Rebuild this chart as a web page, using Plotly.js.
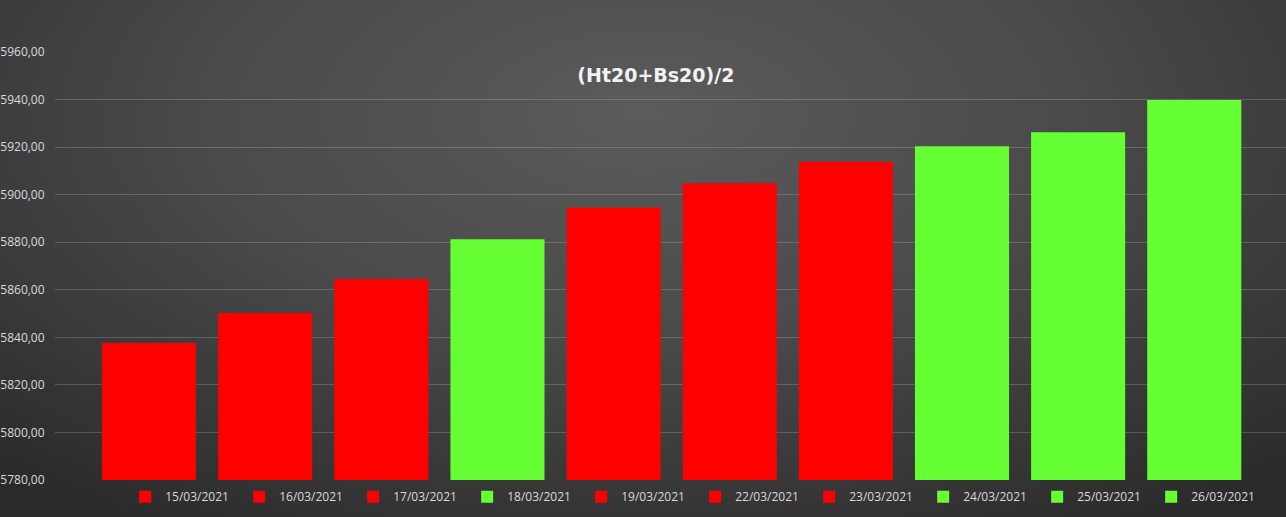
<!DOCTYPE html>
<html>
<head>
<meta charset="utf-8">
<script src="https://cdn.plot.ly/plotly-3.0.1.min.js"></script>
<style>
  html, body { margin:0; padding:0; }
  body { width:1286px; height:517px; overflow:hidden;
    background: radial-gradient(ellipse 75% 95% at 50% 22%, #5b5b5b 0%, #4a4a4a 45%, #2a2a2a 100%); }
  #chart { width:1286px; height:517px; }
</style>
</head>
<body>
<div id="chart"></div>
<script>
const dates = ["15/03/2021","16/03/2021","17/03/2021","18/03/2021","19/03/2021","22/03/2021","23/03/2021","24/03/2021","25/03/2021","26/03/2021"];
const values = [5837.6, 5850.2, 5864.5, 5881.3, 5894.5, 5904.8, 5913.8, 5920.4, 5926.3, 5939.8];
const direction = ["down","down","down","up","down","down","down","up","up","up"];

const colorFor = { up: "#66ff33", down: "#ff0000" };

const traces = dates.map((d, i) => ({
  type: "bar",
  x: [d],
  y: [values[i]],
  name: d,
  width: 0.81,
  marker: { color: colorFor[direction[i]] },
  hoverinfo: "x+y"
}));

const layout = {
  width: 1286, height: 517,
  paper_bgcolor: "rgba(0,0,0,0)",
  plot_bgcolor: "rgba(0,0,0,0)",
  margin: { l: 55, r: 0, t: 52, b: 37 },
  barmode: "overlay",
  separators: ",.",
  showlegend: true,
  title: {
    text: "<b>(Ht20+Bs20)/2</b>",
    font: { family: "DejaVu Sans, sans-serif", size: 19, color: "#f2f2f2" },
    x: 0.51, xanchor: "center", xref: "container",
    y: 1 - 75/517, yanchor: "middle", yref: "container"
  },
  xaxis: {
    type: "category",
    categoryarray: dates,
    range: [-0.81, 9.79],
    showticklabels: false, showgrid: false, zeroline: false, showline: false, ticks: ""
  },
  yaxis: {
    range: [5780, 5960],
    dtick: 20,
    tickformat: ".2f",
    showgrid: true,
    gridcolor: "rgba(217,217,217,0.22)",
    gridwidth: 1,
    zeroline: false, showline: false,
    ticks: "outside", ticklen: 7, tickcolor: "rgba(0,0,0,0)",
    tickfont: { family: "Open Sans, DejaVu Sans, sans-serif", size: 12, color: "#d9d9d9" }
  },
  legend: {
    orientation: "h",
    x: 0.057, xanchor: "left",
    y: -0.005, yanchor: "top",
    entrywidth: 69,
    itemwidth: 30,
    traceorder: "normal",
    font: { family: "Open Sans, DejaVu Sans, sans-serif", size: 12, color: "#d9d9d9" },
    bgcolor: "rgba(0,0,0,0)"
  }
};

Plotly.newPlot("chart", traces, layout, { displayModeBar: false, staticPlot: true });
</script>
</body>
</html>
